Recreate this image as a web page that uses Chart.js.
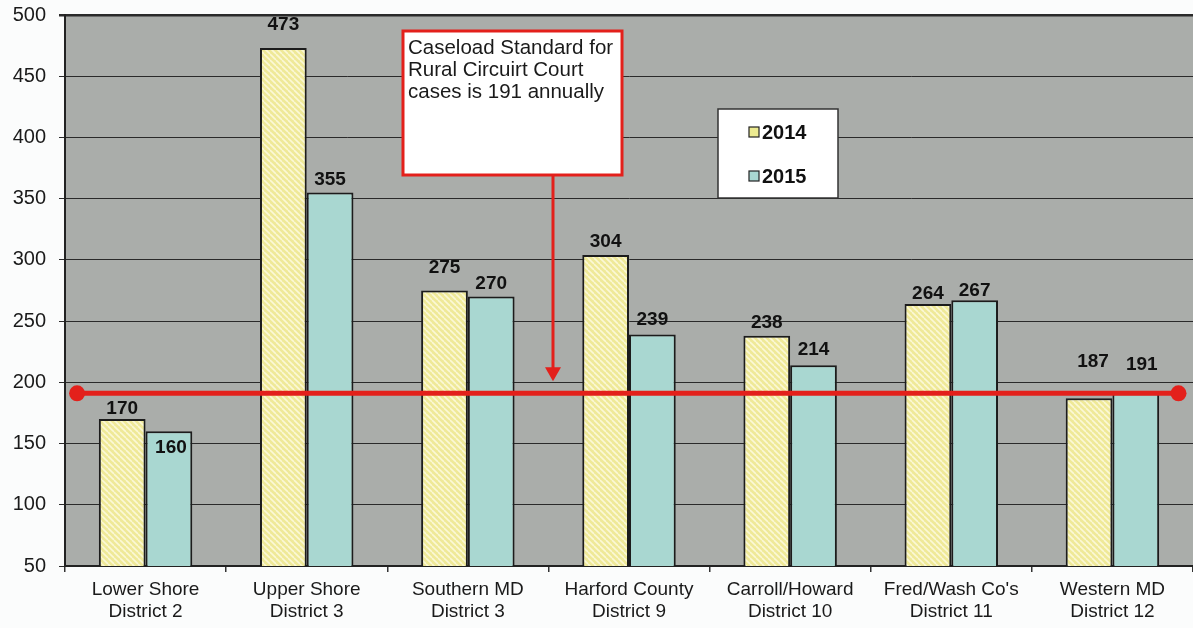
<!DOCTYPE html>
<html>
<head>
<meta charset="utf-8">
<script src="https://cdn.jsdelivr.net/npm/chart.js@4/dist/chart.umd.min.js"></script>
<style>
  html, body { margin: 0; padding: 0; background: #fbfcfc; overflow: hidden; }
</style>
</head>
<body>
<canvas id="c" width="1193" height="628"></canvas>
<script>
const categories = [
  ['Lower Shore', 'District 2'],
  ['Upper Shore', 'District 3'],
  ['Southern MD', 'District 3'],
  ['Harford County', 'District 9'],
  ['Carroll/Howard', 'District 10'],
  ["Fred/Wash Co's", 'District 11'],
  ['Western MD', 'District 12']
];
const seriesNames = ['2014', '2015'];
const values2014 = [170, 473, 275, 304, 238, 264, 187];
const values2015 = [160, 355, 270, 239, 214, 267, 191];
const caseloadStandard = 191;
const yTicks = [50, 100, 150, 200, 250, 300, 350, 400, 450, 500];
const noteLines = ['Caseload Standard for', 'Rural Circuirt Court', 'cases is ' + caseloadStandard + ' annually'];

function makeHatch() {
  const p = document.createElement('canvas');
  p.width = 6; p.height = 6;
  const g = p.getContext('2d');
  g.fillStyle = '#efe998';
  g.fillRect(0, 0, 6, 6);
  g.strokeStyle = '#fbf8d6';
  g.lineWidth = 1.6;
  for (let k = -6; k <= 12; k += 6) {
    g.beginPath();
    g.moveTo(k, 0);
    g.lineTo(k + 6, 6);
    g.stroke();
  }
  return g.createPattern(p, 'repeat');
}
const ctx = document.getElementById('c').getContext('2d');
const yellowFill = makeHatch();
const tealFill = '#a9d7d1';
const FONT = '"Liberation Sans", Arial, sans-serif';

// the standard line runs almost across the full category range (index space, parsing off)
const nCat = categories.length;
const standardLine = [
  {x: -0.5 + 0.075, y: caseloadStandard},
  {x: nCat - 0.5 - 0.09, y: caseloadStandard}
];

const labelTweak = {
  '0:1': {dy: 23}, '0:2': {dy: 23}, '0:0': {dy: 10}, '0:5': {dy: 10}, '0:6': {dy: 36, dx: 4},
  '1:0': {dy: -16, dx: 2}, '1:5': {dy: 10}, '1:6': {dy: 29, dx: 6}, '1:3': {dy: 15}, '1:4': {dy: 15}
};

function zeroSidePadding(s) {
  s.paddingLeft = 0; s.paddingRight = 0;
  s.getPadding = () => ({left: 0, right: 0, top: 0, bottom: 0});
}

const bgPlugin = {
  id: 'bg',
  beforeDraw(chart) {
    const {ctx, chartArea: a} = chart;
    ctx.save();
    ctx.fillStyle = '#aaadaa';
    ctx.fillRect(a.left, a.top, a.right - a.left, a.bottom - a.top);
    ctx.restore();
  }
};

const overlayPlugin = {
  id: 'overlay',
  afterDatasetsDraw(chart) {
    const {ctx} = chart;
    const ys = chart.scales.y;
    ctx.save();
    ctx.font = 'bold 19px ' + FONT;
    ctx.fillStyle = '#111';
    ctx.textAlign = 'center';
    ctx.textBaseline = 'middle';
    [0, 1].forEach(di => {
      const meta = chart.getDatasetMeta(di);
      meta.data.forEach((bar, i) => {
        const t = labelTweak[di + ':' + i] || {};
        const dy = t.dy !== undefined ? t.dy : 13;
        const dx = t.dx || 0;
        ctx.fillText(String(chart.data.datasets[di].data[i]), bar.x + dx, bar.y - dy);
      });
    });

    // note box
    const bx = 403, by = 31, bw = 219, bh = 144;
    ctx.fillStyle = '#ffffff';
    ctx.fillRect(bx, by, bw, bh);
    ctx.strokeStyle = '#e3201b';
    ctx.lineWidth = 3;
    ctx.strokeRect(bx, by, bw, bh);
    ctx.fillStyle = '#1a1a1a';
    ctx.font = '20.5px ' + FONT;
    ctx.textAlign = 'left';
    ctx.textBaseline = 'middle';
    noteLines.forEach((ln, k) => ctx.fillText(ln, bx + 5, by + 17 + k * 22));

    // arrow
    const ax = 553;
    const tipY = ys.getPixelForValue(caseloadStandard) - 12;
    ctx.strokeStyle = '#e3201b';
    ctx.lineWidth = 3;
    ctx.beginPath();
    ctx.moveTo(ax, by + bh);
    ctx.lineTo(ax, tipY - 12);
    ctx.stroke();
    ctx.fillStyle = '#e3201b';
    ctx.beginPath();
    ctx.moveTo(ax - 8, tipY - 14);
    ctx.lineTo(ax + 8, tipY - 14);
    ctx.lineTo(ax, tipY);
    ctx.closePath();
    ctx.fill();

    // legend
    const lx = 718, ly = 109, lw = 120, lh = 89;
    ctx.fillStyle = '#ffffff';
    ctx.fillRect(lx, ly, lw, lh);
    ctx.strokeStyle = '#333';
    ctx.lineWidth = 1.5;
    ctx.strokeRect(lx, ly, lw, lh);
    ctx.font = 'bold 20px ' + FONT;
    chart.data.datasets.slice(0, 2).forEach((ds, k) => {
      const cy = ly + 23 + k * 44;
      ctx.fillStyle = k === 0 ? '#ecea90' : tealFill;
      ctx.fillRect(lx + 31, cy - 5, 10, 10);
      ctx.strokeStyle = '#222';
      ctx.lineWidth = 1.2;
      ctx.strokeRect(lx + 31, cy - 5, 10, 10);
      ctx.fillStyle = '#111';
      ctx.textAlign = 'left';
      ctx.fillText(ds.label, lx + 44, cy + 1);
    });
    ctx.restore();
  }
};

new Chart(ctx, {
  type: 'bar',
  data: {
    labels: categories,
    datasets: [
      {
        label: seriesNames[0], data: values2014, backgroundColor: yellowFill,
        borderColor: '#1c1c1c', borderWidth: 2, borderSkipped: 'bottom', order: 2
      },
      {
        label: seriesNames[1], data: values2015, backgroundColor: tealFill,
        borderColor: '#1c1c1c', borderWidth: 2, borderSkipped: 'bottom', order: 2
      },
      {
        type: 'line', label: 'Standard', parsing: false, normalized: true,
        data: standardLine,
        borderColor: '#e3201b', backgroundColor: '#e3201b', borderWidth: 5,
        pointRadius: 8, pointBackgroundColor: '#e3201b', pointBorderWidth: 0,
        order: 0
      }
    ]
  },
  options: {
    responsive: false,
    animation: false,
    devicePixelRatio: 1,
    datasets: { bar: { categoryPercentage: 0.58, barPercentage: 1.0 } },
    layout: { autoPadding: false, padding: { top: 15, right: 0, left: 0, bottom: 0 } },
    plugins: { legend: { display: false }, tooltip: { enabled: false } },
    scales: {
      x: {
        offset: true,
        grid: { offset: true, drawOnChartArea: false, drawTicks: true, tickLength: 6, color: '#333', lineWidth: 1.5 },
        border: { color: '#222', width: 2 },
        ticks: { color: '#1a1a1a', font: { family: FONT, size: 19 }, padding: 6, maxRotation: 0, autoSkip: false },
        afterFit(s) { s.height = 62; zeroSidePadding(s); }
      },
      y: {
        min: yTicks[0], max: yTicks[yTicks.length - 1],
        afterBuildTicks(s) { s.ticks = yTicks.map(v => ({value: v})); },
        grid: {
          color: '#2a2a2a',
          lineWidth: c => (c.tick && c.tick.value === 500 ? 2.5 : 1),
          tickLength: 6, drawTicks: true
        },
        border: { color: '#222', width: 2 },
        ticks: { color: '#1a1a1a', font: { family: FONT, size: 20 }, padding: 13 },
        afterFit(s) { s.width = 65; s.paddingTop = 0; s.paddingBottom = 0; zeroSidePadding(s); }
      }
    }
  },
  plugins: [bgPlugin, overlayPlugin]
});
</script>
</body>
</html>
